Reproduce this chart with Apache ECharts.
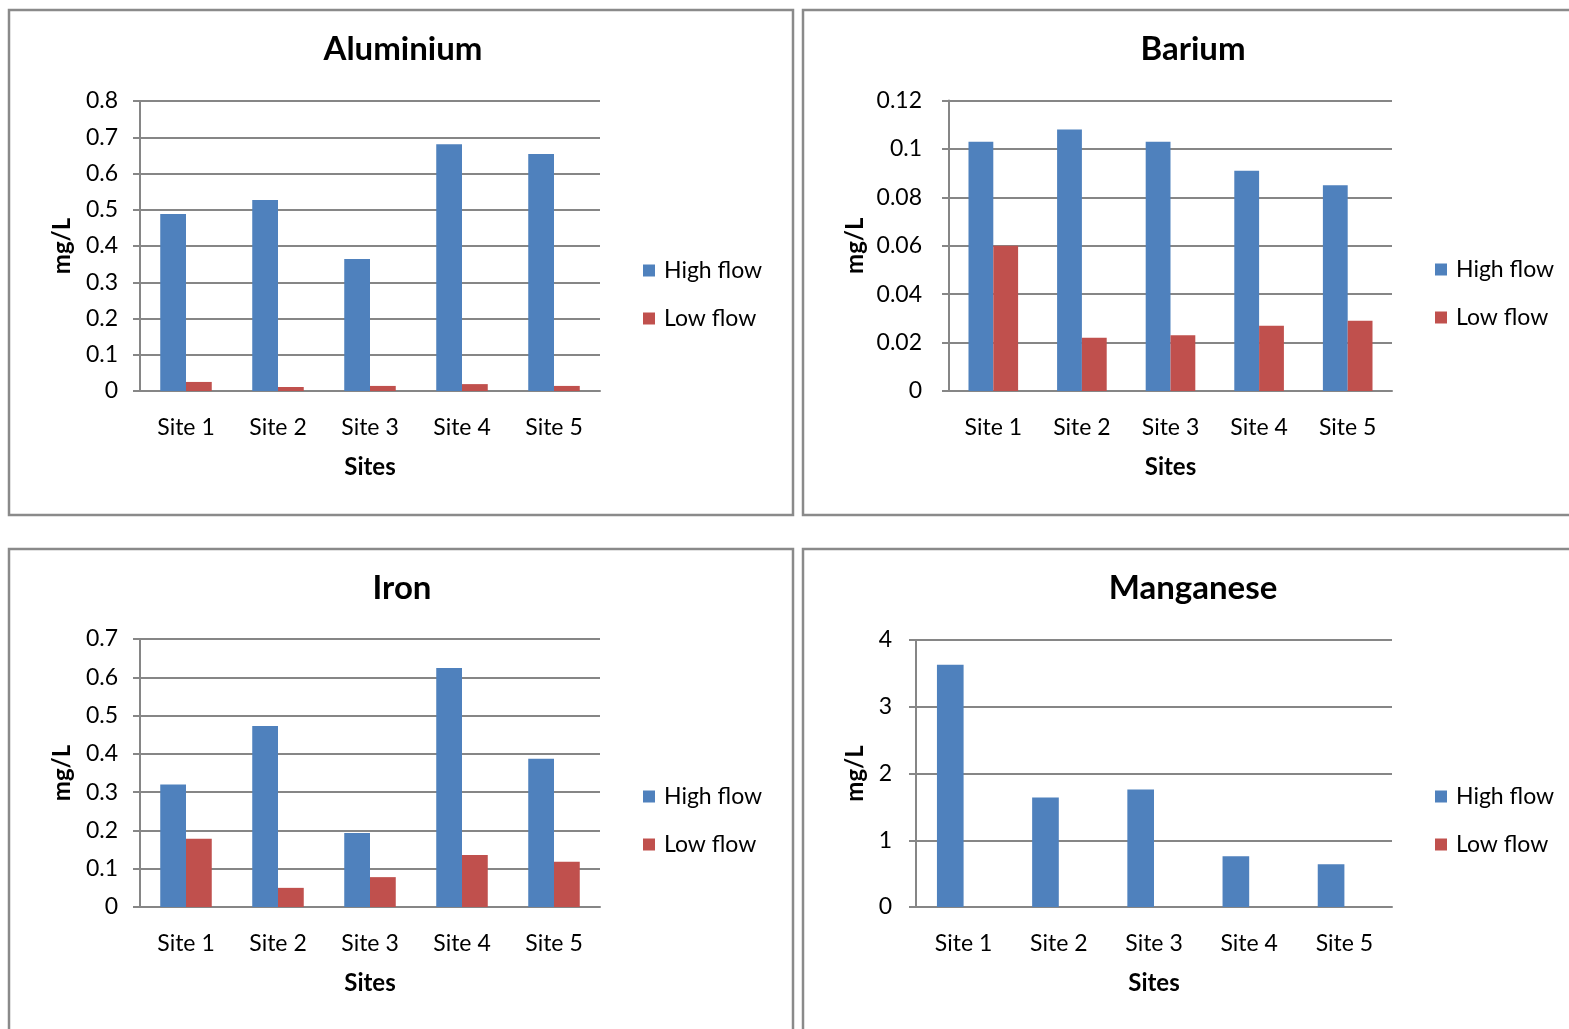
<!DOCTYPE html>
<html>
<head>
<meta charset="utf-8">
<script src="https://cdn.jsdelivr.net/npm/echarts@6/dist/echarts.min.js"></script>
<style>
html,body{margin:0;padding:0;background:#fff;}
#chart{width:1569px;height:1029px;}
</style>
</head>
<body>
<div id="chart"></div>
<script>
// ---- Data ----
var categories = ['Site 1', 'Site 2', 'Site 3', 'Site 4', 'Site 5'];
var seriesNames = ['High flow', 'Low flow'];
var titles = ['Aluminium', 'Barium', 'Iron', 'Manganese'];

var aluminiumHigh = [0.488, 0.527, 0.364, 0.681, 0.654];
var aluminiumLow  = [0.025, 0.011, 0.014, 0.019, 0.014];

var bariumHigh = [0.103, 0.108, 0.103, 0.091, 0.085];
var bariumLow  = [0.060, 0.022, 0.023, 0.027, 0.029];

var ironHigh = [0.320, 0.473, 0.193, 0.624, 0.387];
var ironLow  = [0.178, 0.050, 0.078, 0.136, 0.118];

var manganeseHigh = [3.63, 1.64, 1.76, 0.76, 0.64];
var manganeseLow  = [0, 0, 0, 0, 0];

var yMax = [0.8, 0.12, 0.7, 4];
var yInterval = [0.1, 0.02, 0.1, 1];

// ---- Layout ----
var FONT = 'Lato';
var gridBoxes = [
  {left: 140, top: 101, width: 460, height: 290},
  {left: 949, top: 100.5, width: 443, height: 290.5},
  {left: 140, top: 639, width: 460, height: 268},
  {left: 916, top: 640, width: 476, height: 267}
];
var titlePos = [{x: 403, y: 33}, {x: 1193, y: 33}, {x: 402, y: 572}, {x: 1193, y: 572}];
var legendPos = [{x: 643, y: 259}, {x: 1435, y: 258}, {x: 643, y: 785}, {x: 1435, y: 785}];
var yLabelMargin = [22, 27, 22, 24];
var yNameGap = [66, 82, 66, 49];
var panels = [
  {x: 9, y: 10, w: 784, h: 505},
  {x: 803, y: 10, w: 790, h: 505},
  {x: 9, y: 549, w: 784, h: 510},
  {x: 803, y: 549, w: 790, h: 510}
];
var BLUE = '#4F81BD', RED = '#C0504D', GRID = '#868686';

var dataSets = [
  [aluminiumHigh, aluminiumLow],
  [bariumHigh, bariumLow],
  [ironHigh, ironLow],
  [manganeseHigh, manganeseLow]
];

var option = {
  backgroundColor: '#ffffff',
  animation: false,
  textStyle: {fontFamily: FONT},
  graphic: panels.map(function (p) {
    return {type: 'rect', shape: {x: p.x, y: p.y, width: p.w, height: p.h},
      style: {fill: 'none', stroke: '#8a8a8a', lineWidth: 2.5}, z: 0};
  }),
  title: titles.map(function (t, i) {
    return {text: t, left: titlePos[i].x, top: titlePos[i].y, textAlign: 'center', padding: 0,
      textStyle: {fontFamily: FONT, fontWeight: 'bold', fontSize: 33, color: '#000'}};
  }),
  legend: legendPos.map(function (p) {
    return {data: seriesNames, orient: 'vertical', left: p.x, top: p.y, padding: 0,
      itemWidth: 12, itemHeight: 12, itemGap: 25, icon: 'rect', selectedMode: false,
      textStyle: {fontFamily: FONT, fontSize: 23, color: '#000', padding: [0, 0, 0, 4]}};
  }),
  grid: gridBoxes.map(function (g) {
    return {left: g.left, top: g.top, width: g.width, height: g.height, containLabel: false};
  }),
  xAxis: gridBoxes.map(function (g, i) {
    return {type: 'category', gridIndex: i, data: categories,
      name: 'Sites', nameLocation: 'middle', nameGap: 64,
      nameTextStyle: {fontFamily: FONT, fontWeight: 'bold', fontSize: 24, color: '#000'},
      axisLine: {show: true, lineStyle: {color: GRID, width: 2}},
      axisTick: {show: false},
      axisLabel: {fontFamily: FONT, fontSize: 23, color: '#000', margin: 25}};
  }),
  yAxis: gridBoxes.map(function (g, i) {
    return {type: 'value', gridIndex: i, min: 0, max: yMax[i], interval: yInterval[i],
      name: 'mg/L', nameLocation: 'middle', nameGap: yNameGap[i], nameRotate: 90,
      nameTextStyle: {fontFamily: FONT, fontWeight: 'bold', fontSize: 24, color: '#000'},
      axisLine: {show: true, lineStyle: {color: GRID, width: 2}},
      axisTick: {show: true, length: 7, lineStyle: {color: GRID, width: 2}},
      splitLine: {show: true, lineStyle: {color: GRID, width: 2}},
      axisLabel: {fontFamily: FONT, fontSize: 23, color: '#000', margin: yLabelMargin[i]}};
  }),
  series: []
};

dataSets.forEach(function (pair, i) {
  option.series.push({name: seriesNames[0], type: 'bar', xAxisIndex: i, yAxisIndex: i,
    data: pair[0], barGap: '0%', barCategoryGap: '44%', itemStyle: {color: BLUE}});
  option.series.push({name: seriesNames[1], type: 'bar', xAxisIndex: i, yAxisIndex: i,
    data: pair[1], barGap: '0%', barCategoryGap: '44%', itemStyle: {color: RED}});
});

var chart = echarts.init(document.getElementById('chart'), null, {renderer: 'canvas'});
chart.setOption(option);
</script>
</body>
</html>
